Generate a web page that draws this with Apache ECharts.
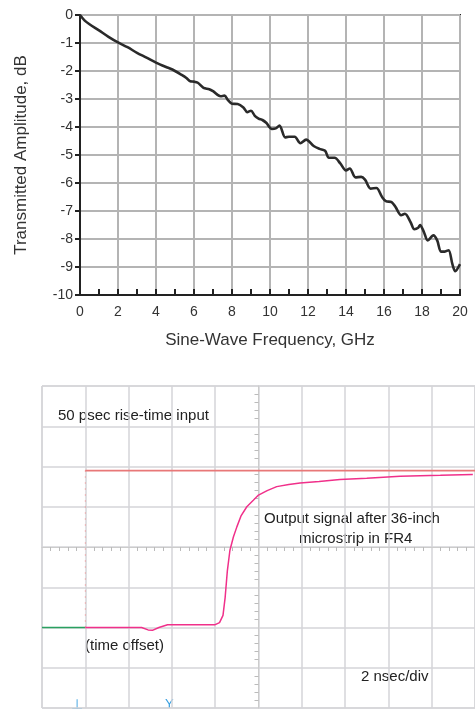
<!DOCTYPE html>
<html><head><meta charset="utf-8">
<script src="https://cdn.jsdelivr.net/npm/echarts@6/dist/echarts.min.js"></script>
<style>html,body{margin:0;padding:0;background:#fff}#c{width:475px;height:709px}</style>
</head><body><div id="c"></div>
<script>
// Top chart: transmitted amplitude vs frequency
const freqGHz = [0,0.25,0.5,1,1.5,2,2.5,3,3.5,4,4.5,4.8,5,5.3,5.6,5.8,6,6.2,6.5,6.8,7,7.4,7.6,7.8,8,8.3,8.6,8.8,9,9.2,9.4,9.6,9.8,10.1,10.3,10.5,10.8,11,11.3,11.6,11.9,12.3,12.6,12.9,13.1,13.4,13.7,14,14.2,14.5,14.8,15,15.3,15.6,15.9,16.1,16.4,16.6,16.9,17.1,17.4,17.6,17.8,17.9,18.1,18.3,18.6,18.8,19,19.2,19.4,19.6,19.75,20];
const amplitudeDb = [0,-0.2,-0.33,-0.55,-0.78,-0.98,-1.15,-1.35,-1.52,-1.7,-1.85,-1.93,-2.0,-2.12,-2.25,-2.37,-2.38,-2.42,-2.6,-2.65,-2.72,-2.9,-2.88,-3.05,-3.17,-3.18,-3.3,-3.47,-3.42,-3.6,-3.7,-3.75,-3.85,-4.07,-4.05,-3.95,-4.37,-4.35,-4.35,-4.58,-4.45,-4.68,-4.78,-4.85,-5.1,-5.1,-5.3,-5.55,-5.48,-5.8,-5.78,-5.88,-6.2,-6.18,-6.5,-6.65,-6.68,-6.85,-7.15,-7.1,-7.4,-7.65,-7.6,-7.5,-7.75,-8.05,-7.87,-8.05,-8.45,-8.45,-8.4,-8.9,-9.15,-8.9];
// Bottom chart: scope traces (divisions, centred on screen)
const inputX = [-5,-4,-4,5];
const inputY = [-2,-2,1.9,1.9];
const baseX = [-5,-4];
const baseY = [-2,-2];
const outputX = [-4,-2.7,-2.55,-2.45,-2.3,-2.1,-1.0,-0.9,-0.82,-0.77,-0.72,-0.66,-0.58,-0.5,-0.4,-0.27,-0.12,0,0.2,0.42,0.7,0.96,1.4,1.88,2.5,3.27,4.2,4.95];
const outputY = [-2,-2,-2.06,-2.07,-2.0,-1.93,-1.93,-1.88,-1.7,-1.25,-0.6,-0.08,0.25,0.5,0.78,1.0,1.16,1.29,1.4,1.5,1.55,1.59,1.63,1.68,1.71,1.76,1.78,1.8];
const labelFont = 'Liberation Sans, Arial, sans-serif';

const zip=(a,b)=>a.map((v,i)=>[v,b[i]]);
const chart = echarts.init(document.getElementById('c'));
chart.setOption({
  animation:false,
  grid:[
    {left:80,top:15,width:380,height:280,show:true,borderColor:'#222',borderWidth:2},
    {left:42,top:386,width:433,height:322,show:true,borderColor:'#ccc',borderWidth:1}
  ],
  xAxis:[
    {gridIndex:0,type:'value',min:0,max:20,interval:2,name:'Sine-Wave Frequency, GHz',nameLocation:'middle',nameGap:37,
     nameTextStyle:{fontSize:17,color:'#333',fontFamily:labelFont},
     axisLine:{onZero:false,lineStyle:{color:'#222',width:2}},axisTick:{inside:true,length:6,lineStyle:{color:'#222',width:2}},
     minorTick:{show:true,splitNumber:2,length:6,lineStyle:{color:'#222',width:2}},
     axisLabel:{fontSize:14,color:'#333',margin:10,fontFamily:labelFont},
     splitLine:{show:true,lineStyle:{color:'#b4b4b4',width:2}}},
    {gridIndex:1,type:'value',min:-5,max:5,interval:1,
     axisLine:{onZero:true,lineStyle:{color:'#ccc'}},axisTick:{show:false},
     minorTick:{show:true,splitNumber:5,length:4,lineStyle:{color:'#bbb'}},
     axisLabel:{show:false},splitLine:{show:true,lineStyle:{color:'#d4d4d8',width:1.5}}}
  ],
  yAxis:[
    {gridIndex:0,type:'value',min:-10,max:0,interval:1,name:'Transmitted Amplitude, dB',nameLocation:'middle',nameGap:50,
     nameTextStyle:{fontSize:17,color:'#333',fontFamily:labelFont},
     axisLine:{onZero:false,lineStyle:{color:'#222',width:2}},axisTick:{length:5,lineStyle:{color:'#222',width:2}},
     axisLabel:{fontSize:14,color:'#333',margin:7,fontFamily:labelFont},
     splitLine:{show:true,lineStyle:{color:'#b4b4b4',width:2}}},
    {gridIndex:1,type:'value',min:-4,max:4,interval:1,
     axisLine:{onZero:true,lineStyle:{color:'#ccc'}},axisTick:{show:false},
     minorTick:{show:true,splitNumber:5,length:4,lineStyle:{color:'#bbb'}},
     axisLabel:{show:false},splitLine:{show:true,lineStyle:{color:'#d4d4d8',width:1.5}}}
  ],
  series:[
    {type:'line',xAxisIndex:0,yAxisIndex:0,data:zip(freqGHz,amplitudeDb),showSymbol:false,smooth:0.3,
     lineStyle:{color:'#2a2a2a',width:2.6}},
    {type:'line',xAxisIndex:1,yAxisIndex:1,data:zip(baseX,baseY),showSymbol:false,lineStyle:{color:'#2aa060',width:1.5}},
    {type:'line',xAxisIndex:1,yAxisIndex:1,data:zip(inputX.slice(1,3),inputY.slice(1,3)),showSymbol:false,
     lineStyle:{color:'#f08080',width:1,type:[1,5]}},
    {type:'line',xAxisIndex:1,yAxisIndex:1,data:zip(inputX.slice(2),inputY.slice(2)),showSymbol:false,lineStyle:{color:'#e87878',width:1.8}},
    {type:'line',xAxisIndex:1,yAxisIndex:1,data:zip(outputX,outputY),showSymbol:false,lineStyle:{color:'#f0308a',width:1.5}}
  ],
  graphic:[
    {type:'text',left:58,top:408,style:{text:'50 psec rise-time input',fontSize:15,fill:'#222',fontFamily:labelFont}},
    {type:'text',left:264,top:511,style:{text:'Output signal after 36-inch',fontSize:15,fill:'#222',fontFamily:labelFont}},
    {type:'text',left:299,top:531,style:{text:'microstrip in FR4',fontSize:15,fill:'#222',fontFamily:labelFont}},
    {type:'text',left:85,top:638,style:{text:'(time offset)',fontSize:15,fill:'#222',fontFamily:labelFont}},
    {type:'text',left:361,top:669,style:{text:'2 nsec/div',fontSize:15,fill:'#222',fontFamily:labelFont}},
    {type:'text',left:71,top:698,style:{text:'⊥',fontSize:14,fill:'#3aa0e0'}},
    {type:'text',left:165,top:698,style:{text:'Y',fontSize:13,fill:'#3aa0e0'}}
  ]
});
</script></body></html>
